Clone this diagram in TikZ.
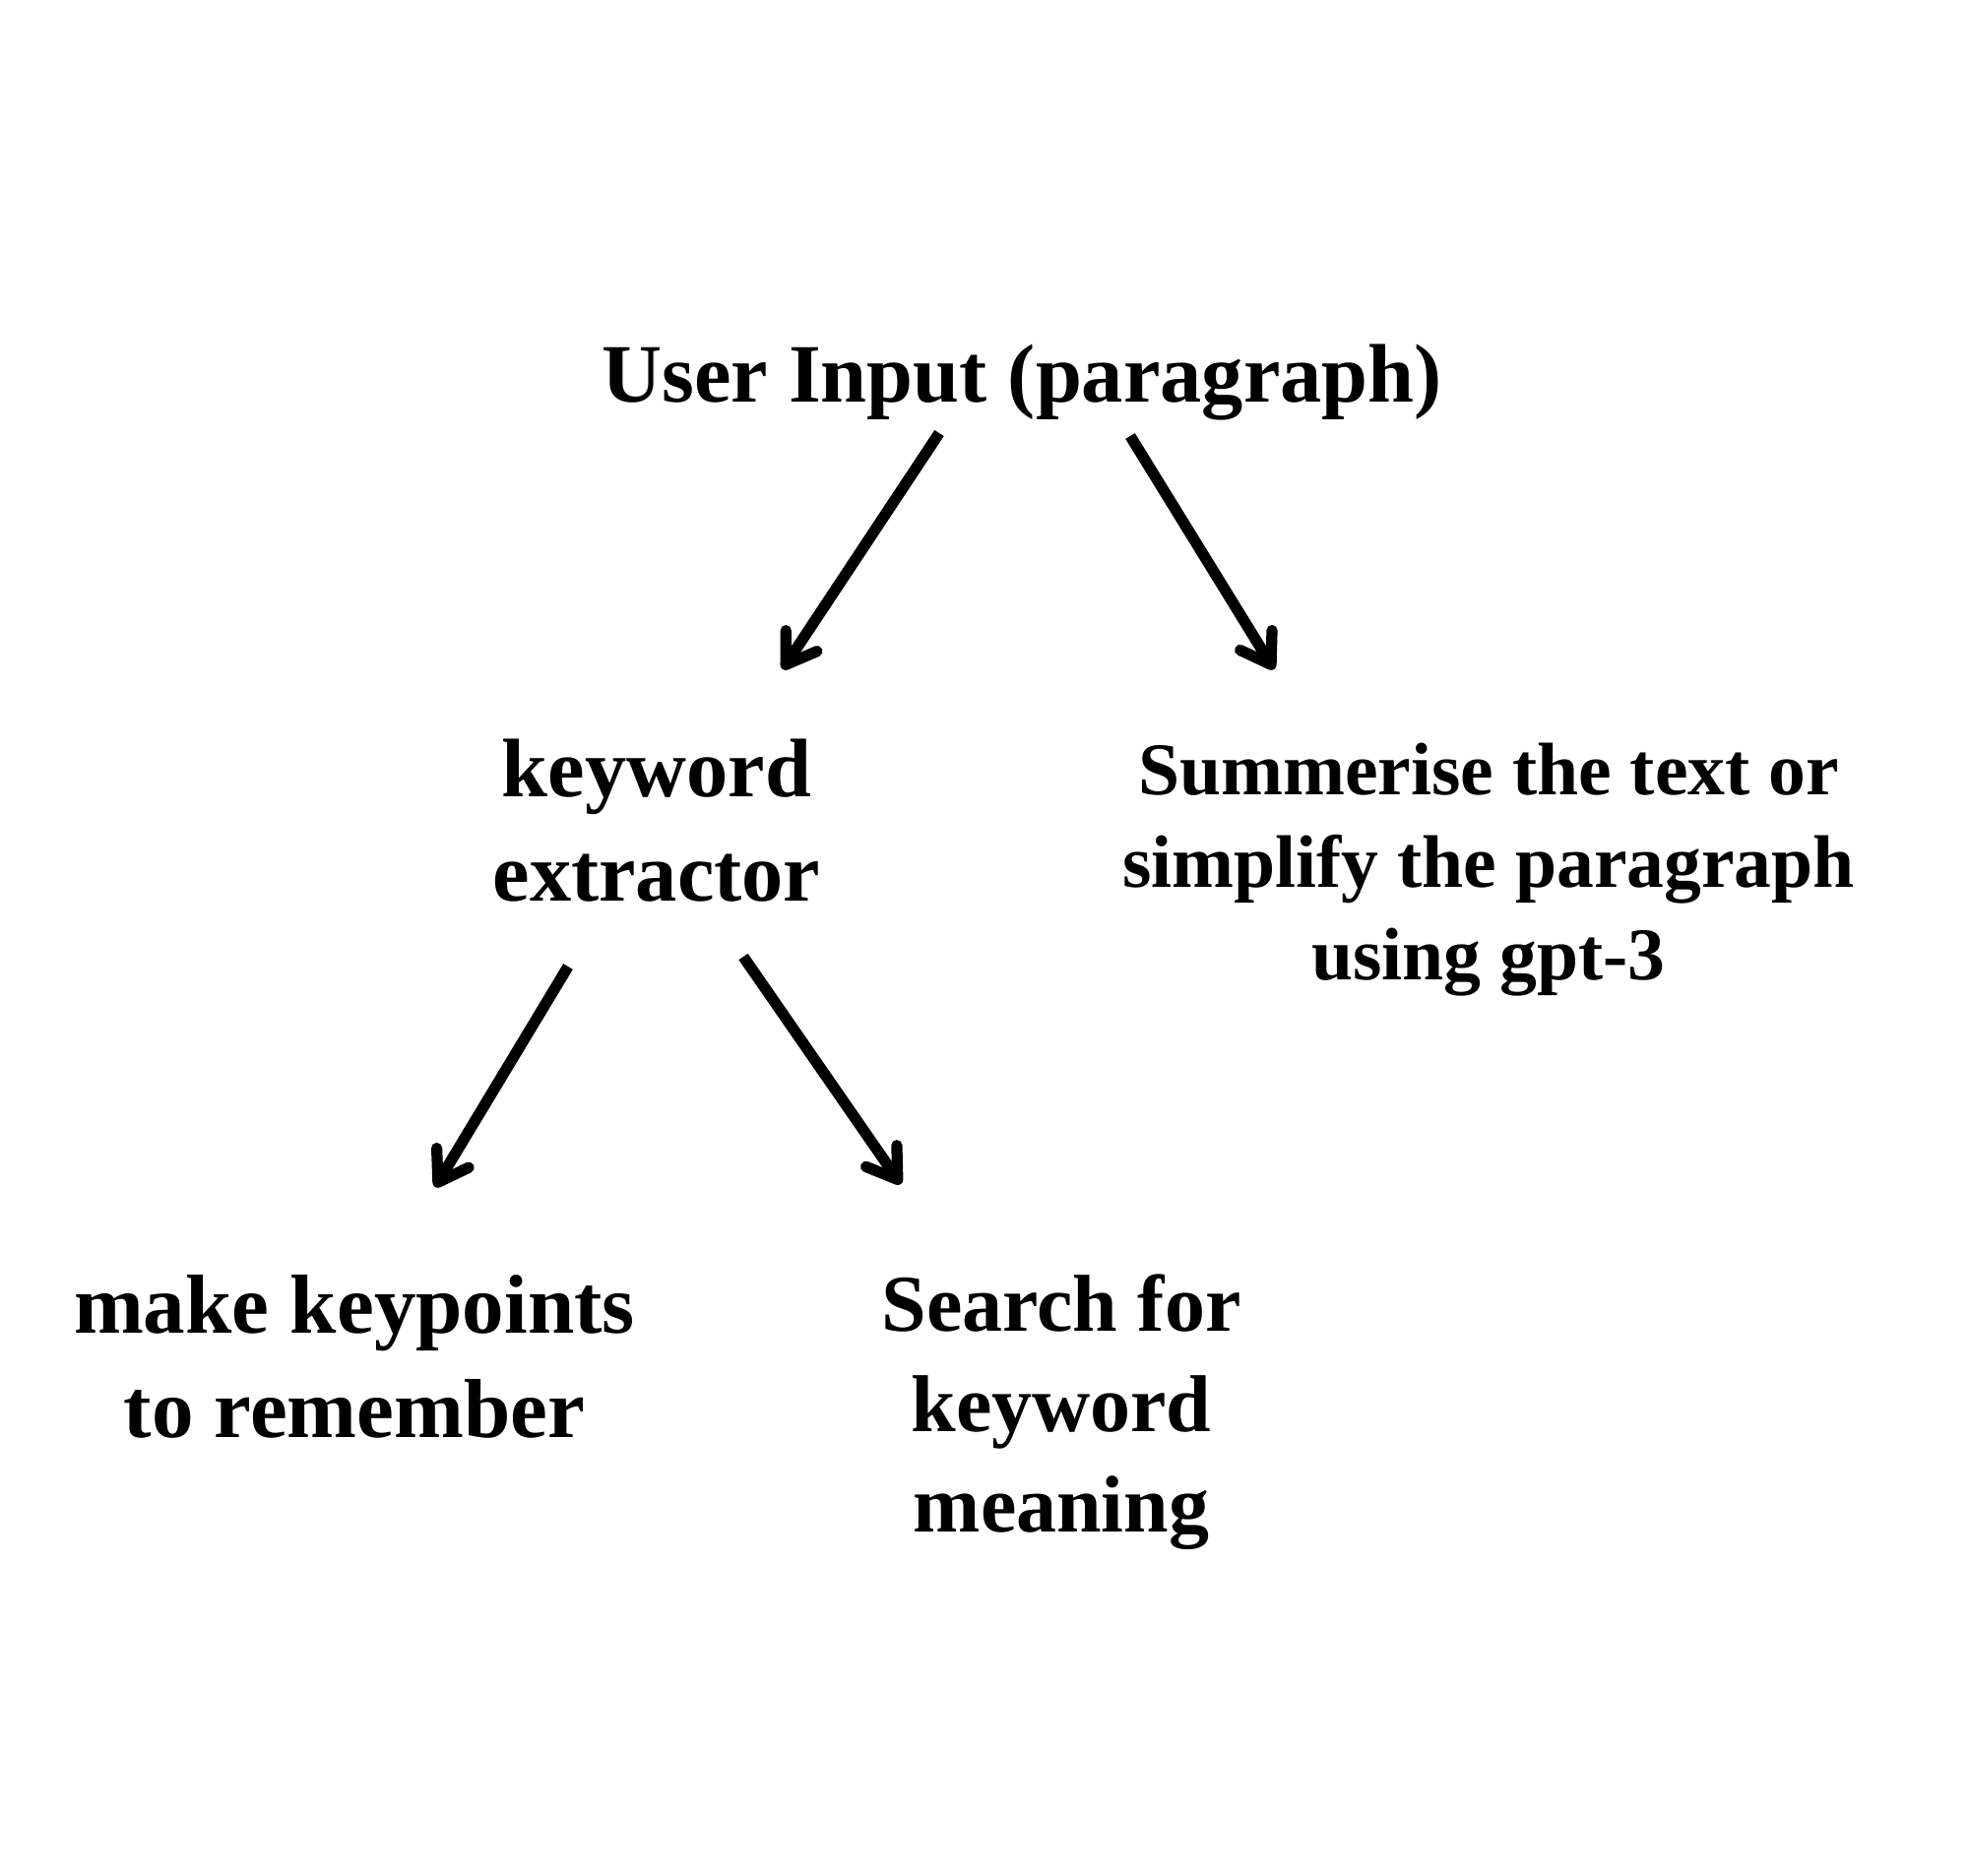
\documentclass[tikz,border=0pt]{standalone}
\usepackage{fontspec}
\setmainfont{Liberation Serif}
\usetikzlibrary{arrows.meta}
\tikzset{
  lbl/.style={align=center,anchor=base,inner sep=0pt,font=\bfseries},
  arr/.style={-{Straight Barb[length=0.29cm,width=0.38cm,round]},line width=3.2pt,black},
}
\begin{document}
\begin{tikzpicture}[x=0.01cm,y=-0.01cm]
        \fill[white] (0,0) rectangle (2000,1905);
        \useasboundingbox (0,0) rectangle (2000,1905);
        % anchor=base sits on the last line of each label
        \node[lbl,font=\bfseries\fontsize{24}{29}\selectfont] (input) at (1038,408) {User Input (paragraph)};
        \node[lbl,font=\bfseries\fontsize{24}{29.9}\selectfont] (kwx) at (667,915) {keyword\\extractor};
        \node[lbl,font=\bfseries\fontsize{21.5}{26.7}\selectfont] (summ) at (1512,995) {Summerise the text or\\simplify the paragraph\\using gpt-3};
        \node[lbl,font=\bfseries\fontsize{24.2}{29.9}\selectfont] (kpts) at (360,1460) {make keypoints\\to remember};
        \node[lbl,font=\bfseries\fontsize{23.3}{29}\selectfont] (srch) at (1078,1556) {Search for\\keyword\\meaning};
        % arrow ends
        \coordinate (u1) at (954,440);  \coordinate (k1) at (795,680);
        \coordinate (u2) at (1148,443); \coordinate (s1) at (1294,680);
        \coordinate (k2) at (577,982);  \coordinate (p1) at (442,1206);
        \coordinate (k3) at (755,972);  \coordinate (m1) at (915,1203);
        \foreach \a/\b in {u1/k1,u2/s1,k2/p1,k3/m1}
          \draw[arr] (\a) -- (\b);
      \end{tikzpicture}
\end{document}
